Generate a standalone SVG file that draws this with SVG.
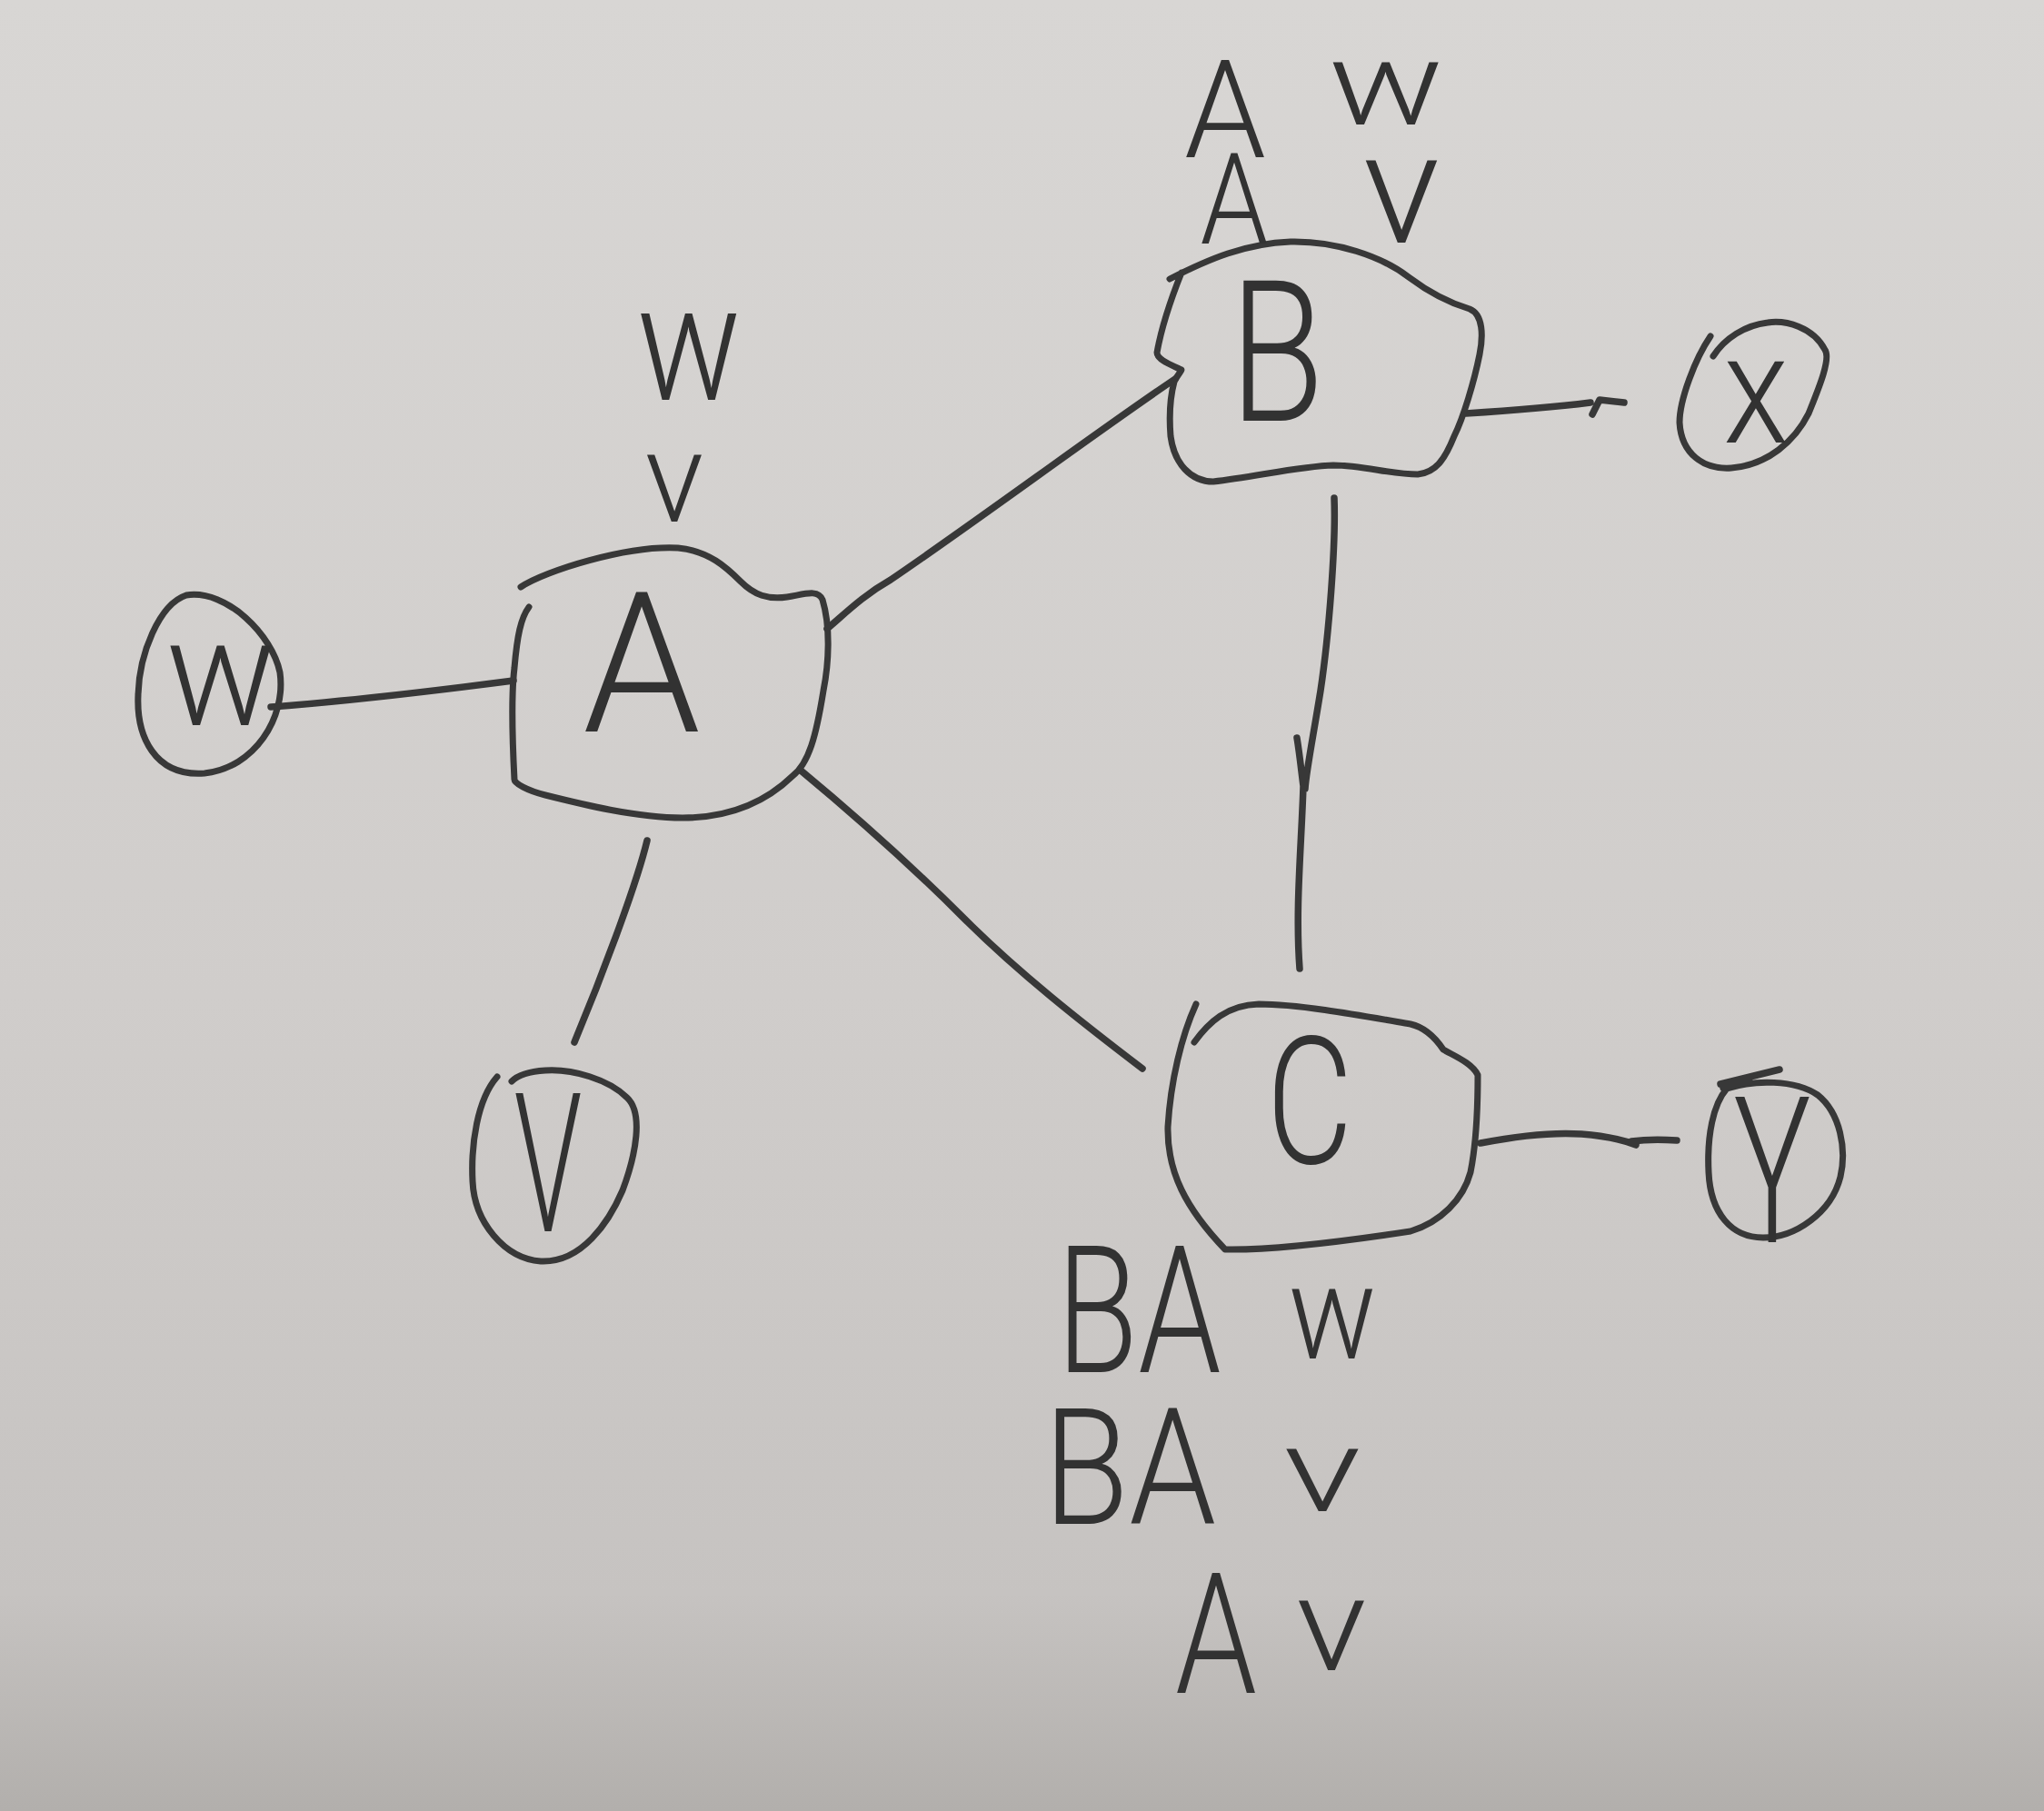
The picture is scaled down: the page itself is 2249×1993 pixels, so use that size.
<svg xmlns="http://www.w3.org/2000/svg" width="2249" height="1993" viewBox="0 0 2249 1993">
  <defs>
    <linearGradient id="paper" x1="0" y1="0" x2="0" y2="1">
      <stop offset="0" stop-color="#d8d6d4"/>
      <stop offset="0.55" stop-color="#d0cdcb"/>
      <stop offset="0.88" stop-color="#c6c3c1"/>
      <stop offset="1" stop-color="#b2afac"/>
    </linearGradient>
    <style>
      .ink { fill: none; stroke: #383838; stroke-width: 7.5; stroke-linecap: round; stroke-linejoin: round; }
      .blob { fill: none; stroke: #383838; stroke-width: 7; stroke-linecap: round; stroke-linejoin: round; }
      .hand { font-family: Roboto, "Liberation Sans", sans-serif; font-weight: 300; fill: #323232; text-anchor: middle; }
    </style>
  </defs>

  <rect x="0" y="0" width="2249" height="1993" fill="url(#paper)"/>

  <g id="connectors">
    <path class="ink" d="M 298,778 C 380,772 480,760 565,749"/>
    <path class="ink" d="M 910,692 C 930,675 950,655 980,638 C 1080,570 1200,480 1293,417"/>
    <path class="ink" d="M 712,925 C 700,975 660,1080 632,1147"/>
    <path class="ink" d="M 880,847 C 950,905 1010,960 1060,1010 C 1120,1070 1190,1125 1257,1176"/>
    <path class="ink" d="M 1613,455 C 1660,452 1710,448 1750,443 M 1752,456 L 1760,440 L 1787,443"/>
    <path class="ink" d="M 1468,548 C 1470,600 1462,700 1453,760 C 1445,810 1437,850 1436,868 M 1427,812 C 1430,830 1432,850 1434,865 C 1432,930 1425,1000 1430,1066"/>
    <path class="ink" d="M 1629,1258 C 1670,1250 1710,1246 1740,1248 C 1765,1250 1785,1254 1800,1260 M 1795,1256 C 1810,1254 1830,1254 1845,1255"/>
  </g>

  <g id="node-A">
    <path class="blob" d="M 573,646 C 600,628 690,600 746,603 C 780,606 800,625 815,640 C 830,655 845,660 866,657 C 885,654 900,648 905,660 C 914,690 912,730 906,760 C 898,810 890,840 872,854 C 840,885 800,900 751,900 C 700,900 640,885 600,875 C 580,870 566,862 566,858 C 563,800 563,760 566,735 C 569,700 573,680 582,668"/>
    <text class="hand" x="706" y="805" font-size="215" textLength="130" lengthAdjust="spacingAndGlyphs">A</text>
  </g>

  <g id="node-B">
    <path class="blob" d="M 1287,307 C 1330,285 1370,268 1420,266 C 1470,265 1520,282 1550,305 C 1570,320 1590,332 1617,340 C 1632,346 1632,370 1628,390 C 1622,420 1610,460 1600,480 C 1590,505 1580,520 1560,522 C 1530,522 1500,512 1467,512 C 1430,513 1380,525 1335,530 C 1310,530 1292,510 1288,480 C 1286,455 1288,435 1292,420 C 1296,412 1300,408 1300,407 C 1285,400 1273,395 1273,388 C 1278,360 1288,330 1300,300"/>
    <text class="hand" x="1405" y="463" font-size="218" textLength="104" lengthAdjust="spacingAndGlyphs">B</text>
  </g>

  <g id="node-C">
    <path class="blob" d="M 1316,1105 C 1300,1140 1288,1190 1285,1240 C 1284,1290 1305,1330 1348,1375 C 1400,1376 1480,1366 1552,1355 C 1585,1345 1610,1320 1618,1290 C 1624,1260 1626,1220 1626,1183 C 1620,1170 1600,1162 1588,1155 C 1578,1140 1565,1130 1552,1127 C 1500,1118 1430,1105 1385,1105 C 1350,1106 1330,1125 1314,1147"/>
    <text class="hand" x="1441" y="1280" font-size="195" textLength="95" lengthAdjust="spacingAndGlyphs">C</text>
  </g>

  <g id="node-w">
    <path class="blob" d="M 205,655 C 250,648 300,700 308,740 C 315,790 280,845 225,851 C 170,855 150,810 152,765 C 153,720 175,665 205,655 Z"/>
    <text class="hand" x="243" y="798" font-size="165" textLength="121" lengthAdjust="spacingAndGlyphs">w</text>
  </g>

  <g id="node-v">
    <path class="blob" d="M 547,1185 C 525,1210 518,1260 520,1300 C 522,1345 555,1385 595,1388 C 640,1390 670,1345 685,1310 C 700,1270 708,1225 690,1208 C 670,1188 630,1176 600,1178 C 585,1179 570,1183 563,1190"/>
    <text class="hand" x="603" y="1355" font-size="214" textLength="75" lengthAdjust="spacingAndGlyphs">V</text>
  </g>

  <g id="node-x">
    <path class="blob" d="M 1882,370 C 1865,395 1848,440 1848,465 C 1850,500 1875,517 1905,515 C 1945,512 1975,485 1990,455 C 2000,430 2015,395 2008,385 C 1995,360 1965,352 1945,355 C 1920,358 1898,372 1885,392"/>
    <text class="hand" x="1932" y="487" font-size="168" textLength="72" lengthAdjust="spacingAndGlyphs">x</text>
  </g>

  <g id="node-y">
    <path class="blob" d="M 1900,1198 C 1930,1188 1975,1188 2000,1205 C 2025,1225 2032,1265 2025,1295 C 2015,1335 1975,1362 1940,1362 C 1905,1362 1882,1335 1880,1290 C 1878,1250 1885,1215 1900,1198 Z"/>
    <path class="ink" d="M 1893,1193 L 1958,1177 M 1896,1197 L 1925,1190"/>
    <text class="hand" x="1950" y="1367" font-size="225" font-weight="700" textLength="85" lengthAdjust="spacingAndGlyphs">Y</text>
  </g>

  <g id="labels">
    <text id="label-A" class="hand"><tspan x="760" y="440" font-size="180" textLength="115" lengthAdjust="spacingAndGlyphs">w</tspan> <tspan x="742" y="574" font-size="140" textLength="65" lengthAdjust="spacingAndGlyphs">v</tspan></text>

    <text id="label-B" class="hand"><tspan x="1350" y="173" font-size="150" textLength="90" lengthAdjust="spacingAndGlyphs">A</tspan> <tspan x="1527" y="137" font-size="130" textLength="127" lengthAdjust="spacingAndGlyphs">w</tspan> <tspan x="1360" y="268" font-size="140" textLength="75" lengthAdjust="spacingAndGlyphs">A</tspan> <tspan x="1542" y="267" font-size="170" textLength="85" lengthAdjust="spacingAndGlyphs">v</tspan></text>

    <text id="label-C" class="hand"><tspan x="1255" y="1510" font-size="195" textLength="181" lengthAdjust="spacingAndGlyphs">BA</tspan> <tspan x="1468" y="1495" font-size="145" textLength="97" lengthAdjust="spacingAndGlyphs">w</tspan> <tspan x="1245" y="1677" font-size="178" textLength="190" lengthAdjust="spacingAndGlyphs">BA</tspan> <tspan x="1457" y="1663" font-size="130" textLength="86" lengthAdjust="spacingAndGlyphs">v</tspan> <tspan x="1340" y="1863" font-size="185" textLength="90" lengthAdjust="spacingAndGlyphs">A</tspan> <tspan x="1465" y="1838" font-size="145" textLength="78" lengthAdjust="spacingAndGlyphs">v</tspan></text>
  </g>
</svg>
